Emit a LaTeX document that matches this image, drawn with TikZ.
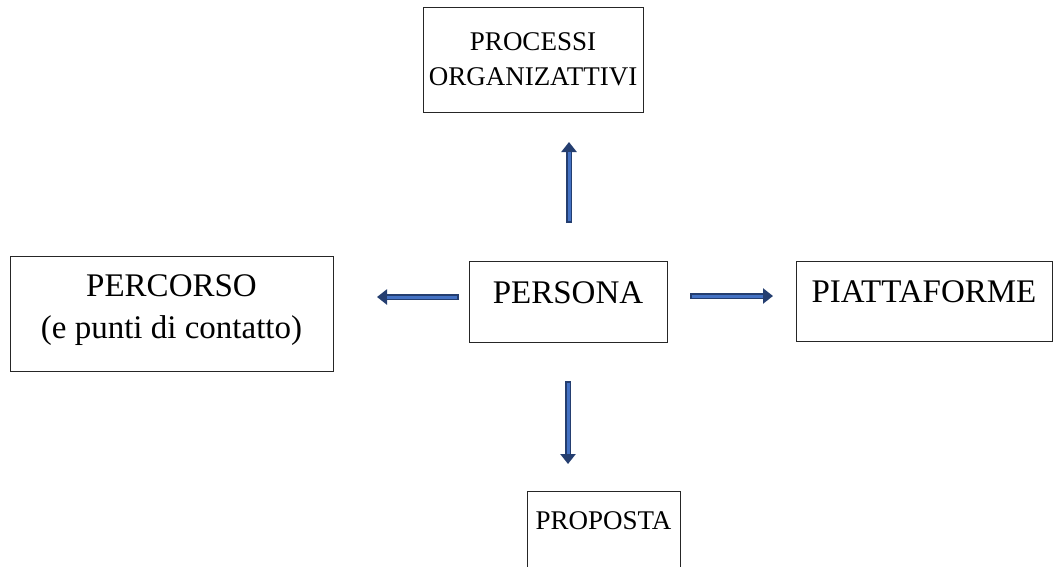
\documentclass[tikz,border=0pt]{standalone}
\usepackage{fontspec}
\setmainfont{Liberation Serif}
\usetikzlibrary{arrows.meta}

\definecolor{rim}{RGB}{36,62,112}
\definecolor{core}{RGB}{68,114,196}

\tikzset{
  box/.style={draw=black!85, line width=1pt, inner sep=0pt, align=center},
  bigtext/.style={font=\fontsize{33}{42}\selectfont},
  smalltext/.style={font=\fontsize{27}{35}\selectfont},
  rimarrow/.style={draw=rim, line width=6.5pt, -{Triangle[length=10pt,width=15pt]}},
  corearrow/.style={draw=core, line width=3pt, shorten >=10pt, shorten <=1.7pt}
}

\begin{document}
\begin{tikzpicture}[x=1pt,y=-1pt]

\useasboundingbox (0,0) rectangle (1055,566);

% boxes
\node[box, smalltext, minimum width=220pt, minimum height=105pt] (proc) at (533,59.5) {PROCESSI\\ORGANIZATTIVI};
\node[box, bigtext, minimum width=323pt, minimum height=115pt, text depth=13pt] (perc) at (171.5,313.5) {PERCORSO\\(e punti di contatto)};
\node[box, bigtext, minimum width=198pt, minimum height=81pt, text height=22pt, text depth=19pt] (pers) at (568,301.5) {PERSONA};
\node[box, bigtext, minimum width=256pt, minimum height=80pt, text height=22pt, text depth=20pt] (piat) at (924,301) {PIATTAFORME};
\node[box, smalltext, minimum width=153pt, minimum height=80pt, text height=18pt, text depth=21pt] (prop) at (603.5,531) {PROPOSTA};

% arrow ends
\coordinate (upA) at (569,223);
\coordinate (upB) at (569,142);
\coordinate (leftA) at (459,297);
\coordinate (leftB) at (377,297);
\coordinate (rightA) at (690,296);
\coordinate (rightB) at (773,296);
\coordinate (downA) at (568,381);
\coordinate (downB) at (568,464);

% block arrows
\foreach \a/\b in {upA/upB, leftA/leftB, rightA/rightB, downA/downB} {
  \draw[rimarrow] (\a) -- (\b);
  \draw[corearrow] (\a) -- (\b);
}

\end{tikzpicture}
\end{document}
